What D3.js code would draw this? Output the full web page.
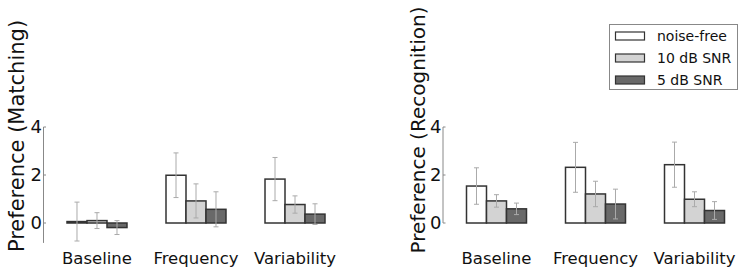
<!DOCTYPE html>
<html>
<head>
<meta charset="utf-8">
<script src="https://cdn.jsdelivr.net/npm/d3@7"></script>
<style>
  body { margin: 0; background: #fff; }
  svg { font-family: "DejaVu Sans", sans-serif; }
</style>
</head>
<body>
<svg id="chart" width="750" height="273"></svg>
<script>
const conditions = ["Baseline", "Frequency", "Variability"];
const seriesNames = ["noise-free", "10 dB SNR", "5 dB SNR"];
const seriesColors = ["#ffffff", "#d3d3d3", "#696969"];
const yTicks = [0, 2, 4];

// means and error half-widths, [series][condition]
const matchingMeans = [[0.06, 1.99, 1.83], [0.1, 0.92, 0.77], [-0.19, 0.57, 0.37]];
const matchingErrors = [[0.81, 0.93, 0.9], [0.33, 0.71, 0.36], [0.29, 0.73, 0.43]];
const recognitionMeans = [[1.54, 2.32, 2.43], [0.92, 1.21, 0.99], [0.59, 0.79, 0.52]];
const recognitionErrors = [[0.76, 1.04, 0.94], [0.26, 0.53, 0.31], [0.24, 0.62, 0.37]];

const svg = d3.select("#chart");

function drawPanel(p) {
  const { axisX, title, means, errors, yMin, titleX, titleY, titleSize } = p;
  const g = svg.append("g");
  const y = d3.scaleLinear().domain([0, 4]).range([223, 127]);

  const x = d3.scaleBand()
    .domain(conditions)
    .range([axisX + 23.5, axisX + 281.5])
    .paddingInner(0.394)
    .paddingOuter(0);
  const xs = d3.scaleBand().domain(d3.range(seriesNames.length)).range([0, x.bandwidth()]);

  // axis spine
  g.append("line")
    .attr("x1", axisX).attr("x2", axisX)
    .attr("y1", y(yMin)).attr("y2", y(4))
    .attr("stroke", "#888").attr("stroke-width", 1);

  const ticks = g.selectAll(".tick").data(yTicks).join("g").attr("class", "tick");
  ticks.append("line")
    .attr("x1", axisX).attr("x2", axisX + 2.5)
    .attr("y1", d => y(d)).attr("y2", d => y(d))
    .attr("stroke", "#888");
  ticks.append("text")
    .attr("x", axisX - 1.5)
    .attr("y", d => y(d))
    .attr("dy", "0.36em")
    .attr("text-anchor", "end")
    .attr("font-size", 18)
    .attr("fill", "#111")
    .text(d => d);

  g.append("text")
    .attr("transform", `translate(${titleX},${titleY}) rotate(-90)`)
    .attr("text-anchor", "middle")
    .attr("font-size", titleSize)
    .attr("fill", "#111")
    .text(title);

  const cells = [];
  seriesNames.forEach((s, si) => {
    conditions.forEach((c, ci) => {
      cells.push({ s: si, c, v: means[si][ci], e: errors[si][ci] });
    });
  });

  g.selectAll(".bar").data(cells).join("rect")
    .attr("class", "bar")
    .attr("x", d => x(d.c) + xs(d.s))
    .attr("width", xs.bandwidth())
    .attr("y", d => y(Math.max(0, d.v)))
    .attr("height", d => Math.abs(y(d.v) - y(0)))
    .attr("fill", d => seriesColors[d.s])
    .attr("stroke", "#333")
    .attr("stroke-width", 1.5);

  const eb = g.selectAll(".err").data(cells).join("g").attr("class", "err")
    .attr("stroke", "#aaa").attr("stroke-width", 1);
  const cx = d => x(d.c) + xs(d.s) + xs.bandwidth() / 2;
  eb.append("line")
    .attr("x1", cx).attr("x2", cx)
    .attr("y1", d => y(d.v + d.e)).attr("y2", d => y(d.v - d.e));
  [1, -1].forEach(sign => {
    eb.append("line")
      .attr("x1", d => cx(d) - 2.5).attr("x2", d => cx(d) + 2.5)
      .attr("y1", d => y(d.v + sign * d.e)).attr("y2", d => y(d.v + sign * d.e));
  });

  g.selectAll(".xlabel").data(conditions).join("text")
    .attr("class", "xlabel")
    .attr("x", d => x(d) + x.bandwidth() / 2)
    .attr("y", 264)
    .attr("text-anchor", "middle")
    .attr("font-size", 16.5)
    .attr("fill", "#111")
    .text(d => d);
}

drawPanel({
  axisX: 43.5, title: "Preference (Matching)", means: matchingMeans, errors: matchingErrors,
  yMin: -0.83, titleX: 24, titleY: 136, titleSize: 21
});
drawPanel({
  axisX: 443, title: "Preference (Recognition)", means: recognitionMeans, errors: recognitionErrors,
  yMin: 0, titleX: 425, titleY: 130, titleSize: 20
});

// legend
const legend = svg.append("g");
legend.append("rect")
  .attr("x", 609.5).attr("y", 24.5).attr("width", 128).attr("height", 65)
  .attr("fill", "#fff").attr("stroke", "#888");
const rows = legend.selectAll(".row").data(seriesNames).join("g")
  .attr("transform", (d, i) => `translate(0,${36 + i * 22})`);
rows.append("rect")
  .attr("x", 615.5).attr("y", -4).attr("width", 29).attr("height", 8)
  .attr("fill", (d, i) => seriesColors[i]).attr("stroke", "#333").attr("stroke-width", 1.2);
rows.append("text")
  .attr("x", 657).attr("dy", "0.36em")
  .attr("font-size", 14).attr("fill", "#111")
  .text(d => d);
</script>
</body>
</html>
